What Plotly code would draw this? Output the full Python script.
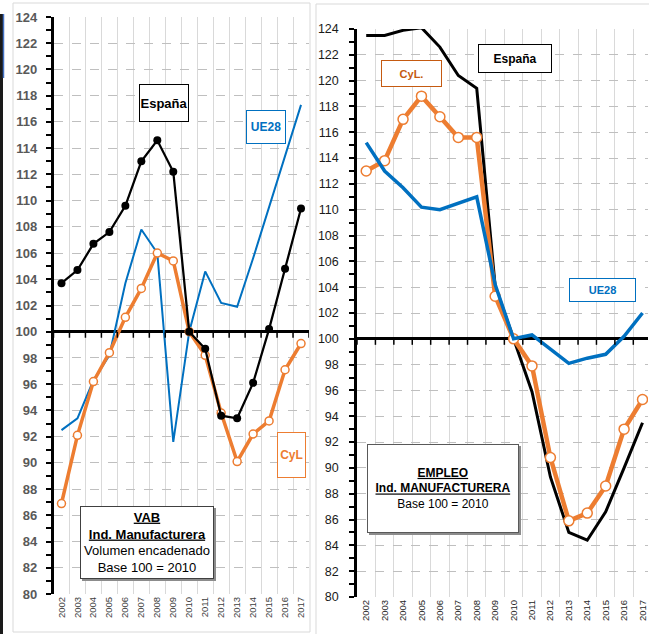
import plotly.graph_objects as go

W, H = 649, 634

years = list(range(2002, 2018))
year_labels = [str(y) for y in years]

# VAB Ind. Manufacturera (left panel)
vab_espana = [103.7, 104.7, 106.7, 107.6, 109.6, 113.0, 114.6, 112.2, 100.0, 98.7, 93.6, 93.4, 96.1, 100.2, 104.8, 109.4]
vab_cyl = [86.9, 92.1, 96.2, 98.4, 101.1, 103.3, 106.0, 105.4, 100.0, 98.2, 93.8, 90.1, 92.2, 93.2, 97.1, 99.1]
vab_ue28 = [92.5, 93.4, 96.3, 98.2, 103.7, 107.8, 106.0, 91.6, 100.0, 104.6, 102.2, 101.9, 105.6, 109.5, 113.5, 117.3]

# EMPLEO Ind. Manufacturera (right panel)
emp_espana = [123.5, 123.5, 123.9, 124.1, 122.6, 120.4, 119.4, 104.1, 100.0, 95.9, 89.3, 85.0, 84.4, 86.6, 90.0, 93.5]
emp_cyl = [113.0, 113.8, 117.0, 118.8, 117.2, 115.6, 115.6, 103.3, 100.0, 97.9, 90.8, 85.9, 86.5, 88.6, 93.0, 95.3]
emp_ue28 = [115.2, 113.0, 111.7, 110.2, 110.0, 110.5, 111.0, 104.2, 100.0, 100.3, 99.2, 98.1, 98.5, 98.8, 100.2, 102.0]

# y tick labels (index values)
y_tick_values = list(range(80, 125, 2))
y_tick_labels = [str(v) for v in y_tick_values]

BASE = 100  # base 100 = 2010; the value axis is drawn relative to it so the axis zero line marks 100

BLACK = "#000000"
ORANGE = "#ED7D31"
BLUE = "#0070C0"
FONT = "Liberation Sans, Arial, sans-serif"

def rel(series):
    return [v - BASE for v in series]

def px(x):
    return x / W

def py(y):
    return 1 - y / H

boundaries = [y - 0.5 for y in years] + [years[-1] + 0.5]

# plot areas in pixels
L_x0, L_x1, L_y0, L_y1 = 53.5, 309, 17, 594
R_x0, R_x1, R_y0, R_y1 = 357, 648, 29, 597
L_range = [2001.5, 2017.5]
R_range = [2001.5, 2001.5 + (R_x1 - R_x0) / 18.42]
YMIN, YMAX = y_tick_values[0], y_tick_values[-1]

fig = go.Figure()

# left panel traces
fig.add_trace(go.Scatter(x=years, y=rel(vab_ue28), mode="lines", line=dict(color=BLUE, width=2),
                         xaxis="x", yaxis="y", name="UE28"))
fig.add_trace(go.Scatter(x=years, y=rel(vab_cyl), mode="lines+markers", line=dict(color=ORANGE, width=3.5),
                         marker=dict(size=8, color="white", line=dict(color=ORANGE, width=1.5)),
                         xaxis="x", yaxis="y", name="CyL"))
fig.add_trace(go.Scatter(x=years, y=rel(vab_espana), mode="lines+markers", line=dict(color=BLACK, width=2.25),
                         marker=dict(size=8, color=BLACK),
                         xaxis="x", yaxis="y", name="España"))

# right panel traces
fig.add_trace(go.Scatter(x=years, y=rel(emp_espana), mode="lines", line=dict(color=BLACK, width=3),
                         xaxis="x2", yaxis="y2", name="España"))
fig.add_trace(go.Scatter(x=years, y=rel(emp_cyl), mode="lines+markers", line=dict(color=ORANGE, width=4.5),
                         marker=dict(size=10, color="white", line=dict(color=ORANGE, width=1.5)),
                         xaxis="x2", yaxis="y2", name="CyL"))
fig.add_trace(go.Scatter(x=years, y=rel(emp_ue28), mode="lines", line=dict(color=BLUE, width=3.5),
                         xaxis="x2", yaxis="y2", name="UE28"))

def x_axis(domain, rng, anchor, color):
    return dict(domain=domain, range=rng, anchor=anchor, side="bottom",
                tickmode="array", tickvals=years, ticktext=year_labels, tickangle=-90,
                ticks="", showline=False, showgrid=False, zeroline=False,
                minor=dict(tick0=2001.5, dtick=1, showgrid=True, gridcolor="#D9D9D9", gridwidth=1, ticks=""),
                tickfont=dict(family=FONT, size=9.5, color=color), fixedrange=True)

def y_axis(domain, anchor, color, bold, standoff):
    return dict(domain=domain, anchor=anchor, range=[YMIN - BASE, YMAX - BASE],
                tickmode="array", tickvals=rel(y_tick_values), ticktext=y_tick_labels,
                ticks="outside", ticklen=5, tickwidth=1.5, tickcolor=BLACK,
                showline=True, linecolor=BLACK, linewidth=2.5,
                showgrid=True, gridcolor="#BFBFBF", griddash="dash", gridwidth=1,
                zeroline=True, zerolinecolor=BLACK, zerolinewidth=2.5,
                ticklabelstandoff=standoff,
                minor=dict(tick0=0, dtick=1, ticks="outside", ticklen=5, tickwidth=1.5, tickcolor=BLACK, showgrid=False),
                tickfont=dict(family=FONT, size=13 if bold else 12.5, color=color,
                              weight="bold" if bold else "normal"),
                fixedrange=True)

L_dom_x = [px(L_x0), px(L_x1)]
R_dom_x = [px(R_x0), px(R_x1)]
L_dom_y = [py(L_y1), py(L_y0)]
R_dom_y = [py(R_y1), py(R_y0)]

fig.update_layout(
    width=W, height=H,
    margin=dict(l=0, r=0, t=0, b=0, autoexpand=False),
    paper_bgcolor="white", plot_bgcolor="white",
    showlegend=False,
    font=dict(family=FONT),
    xaxis=x_axis(L_dom_x, L_range, "y", "#404040"),
    xaxis2=x_axis(R_dom_x, R_range, "y2", "#262626"),
    yaxis=y_axis(L_dom_y, "x", "#595959", True, 6),
    yaxis2=y_axis(R_dom_y, "x2", "#1A1A1A", False, 8),
)

shapes = []
# panel borders
shapes.append(dict(type="rect", xref="paper", yref="paper", x0=px(13), x1=px(310), y0=py(632), y1=py(3),
                   line=dict(color="#D9D9D9", width=1), layer="below"))
shapes.append(dict(type="rect", xref="paper", yref="paper", x0=px(316), x1=px(660), y0=py(645), y1=py(4),
                   line=dict(color="#D9D9D9", width=1), layer="below"))
# left edge strip
shapes.append(dict(type="line", xref="paper", yref="paper", x0=px(1.5), x1=px(1.5), y0=py(634), y1=py(14),
                   line=dict(color="#1A1A1A", width=3)))
shapes.append(dict(type="line", xref="paper", yref="paper", x0=px(3.5), x1=px(3.5), y0=py(78), y1=py(14),
                   line=dict(color="#4472C4", width=1.5)))

# category tick marks hanging from the base-100 line
for xr, yr in (("x", "y"), ("x2", "y2")):
    for b in boundaries:
        shapes.append(dict(type="line", xref=xr, yref=yr, ysizemode="pixel", yanchor=0,
                           x0=b, x1=b, y0=0, y1=-6, line=dict(color=BLACK, width=1.5), layer="above"))

def shadow(x0, y0, x1, y1):
    return dict(type="rect", xref="paper", yref="paper", x0=px(x0 + 2), x1=px(x1 + 2), y0=py(y1 + 2), y1=py(y0 + 2),
                fillcolor="#8C8C8C", line=dict(width=0), layer="above")

shapes.append(shadow(80, 506, 214, 579))
shapes.append(shadow(367, 444, 519, 533))
fig.update_layout(shapes=shapes)

def box(text, x0, y0, x1, y1, color, border, size, bw=1):
    return dict(text=text, xref="paper", yref="paper", x=px((x0 + x1) / 2), y=py((y0 + y1) / 2),
                xanchor="center", yanchor="middle", showarrow=False,
                width=(x1 - x0) - 2, height=(y1 - y0) - 2, align="center", valign="middle",
                bgcolor="white", bordercolor=border, borderwidth=bw, borderpad=0,
                font=dict(family=FONT, size=size, color=color))

annotations = [
    box("<b>España</b>", 139, 84, 189, 122, BLACK, BLACK, 13),
    box("<b>UE28</b>", 246, 110, 286, 144, BLUE, BLUE, 12),
    box("<b>CyL</b>", 277, 432, 306, 478, ORANGE, ORANGE, 12),
    box("<b><u>VAB</u></b><br><b><u>Ind. Manufacturera</u></b><br>Volumen encadenado<br>Base 100 = 2010",
        80, 506, 214, 579, BLACK, "#404040", 13),
    box("<b>CyL.</b>", 381, 60, 442, 87, "#C55A11", "#C55A11", 11),
    box("<b>España</b>", 478, 44, 552, 73, BLACK, BLACK, 12),
    box("<b>UE28</b>", 569, 278, 636, 302, BLUE, BLUE, 11),
    box("<b><u>EMPLEO</u></b><br><b><u>Ind. MANUFACTURERA</u></b><br>Base 100 = 2010",
        367, 444, 519, 533, BLACK, "#595959", 12),
]
fig.update_layout(annotations=annotations)

fig.write_html("out.html", config={"responsive": False, "displayModeBar": False},
               post_script="document.body.style.margin='0';document.body.style.overflow='hidden';")
